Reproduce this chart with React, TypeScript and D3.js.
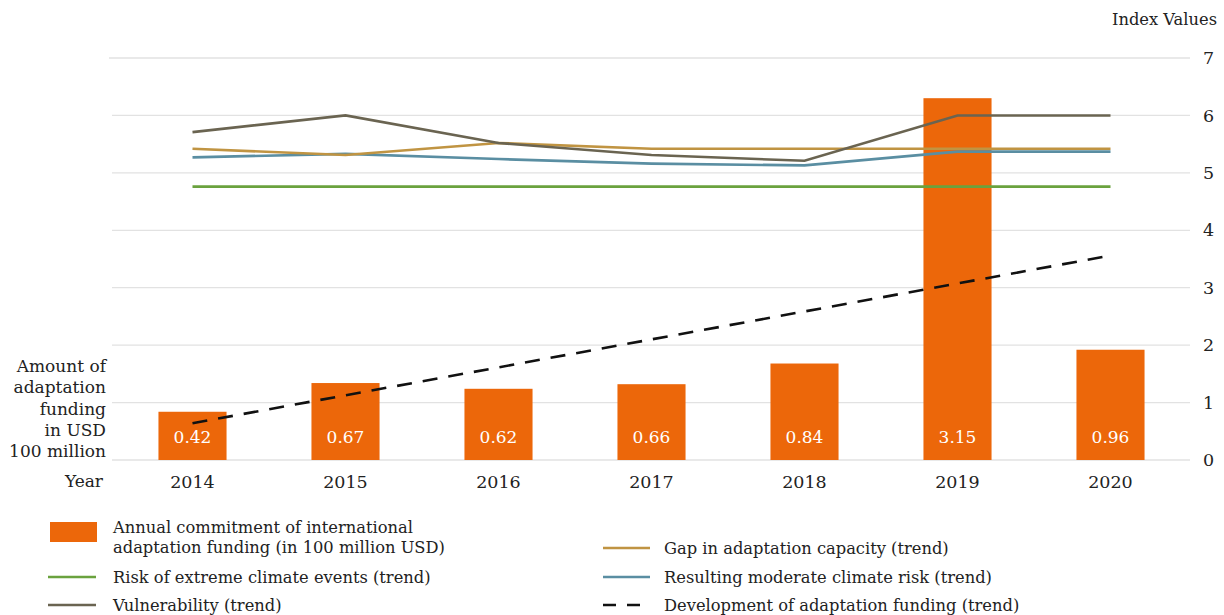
import React from "react";
import * as d3 from "d3";

const years = ["2014", "2015", "2016", "2017", "2018", "2019", "2020"];
const funding = [0.42, 0.67, 0.62, 0.66, 0.84, 3.15, 0.96];
const gapCapacity = [5.42, 5.31, 5.52, 5.42, 5.42, 5.42, 5.42];
const vulnerability = [5.71, 6.0, 5.52, 5.31, 5.21, 6.0, 6.0];
const moderateRisk = [5.27, 5.33, 5.24, 5.16, 5.13, 5.37, 5.37];
const extremeRisk = [4.76, 4.76, 4.76, 4.76, 4.76, 4.76, 4.76];
const fundingTrendEnds = [0.32, 1.78];
const indexTicks = [0, 1, 2, 3, 4, 5, 6, 7];
const leftLabel = ["Amount of", "adaptation", "funding", "in USD", "100 million"];

const FONT = "'DejaVu Serif', serif";
const C_BAR = "#EC670A";
const C_GAP = "#C09442";
const C_MOD = "#5A8EA2";
const C_EXT = "#6AA23E";
const C_VUL = "#6A6451";

export default function App() {
  const W = 1224, H = 615;
  const x = d3.scaleBand().domain(years).range([116, 1187]).paddingInner(0).paddingOuter(0);
  const yIdx = d3.scaleLinear().domain([0, 7]).range([460, 58]);
  const yFund = d3.scaleLinear().domain([0, 3.5]).range([460, 58]);
  const cx = (y: string) => (x(y) as number) + x.bandwidth() / 2;
  const barW = x.bandwidth() * 0.445;

  const line = d3.line<number>().x((_, i) => cx(years[i])).y((d) => yIdx(d));
  const series = [
    { data: extremeRisk, color: C_EXT },
    { data: moderateRisk, color: C_MOD },
    { data: gapCapacity, color: C_GAP },
    { data: vulnerability, color: C_VUL },
  ];

  const text = { fontFamily: FONT, fill: "#222" } as const;
  const LF = 16.3;

  return (
    <svg width={W} height={H} style={{ display: "block", position: "absolute", left: 0, top: 0 }}>
      {indexTicks.map((t) => (
        <g key={t}>
          <line x1={t === 7 ? 109 : 112} x2={1190} y1={yIdx(t)} y2={yIdx(t)} stroke="#e2e2e2" strokeWidth={1.3} />
          <text x={1203} y={yIdx(t)} dy="0.35em" fontSize={17.5} {...text}>{t}</text>
        </g>
      ))}
      <text x={1217} y={19} dy="0.35em" textAnchor="end" fontSize={16.3} {...text}>Index Values</text>
      {funding.map((v, i) => (
        <g key={years[i]}>
          <rect x={cx(years[i]) - barW / 2} y={yFund(v)} width={barW} height={yFund(0) - yFund(v)} fill={C_BAR} />
          <text x={cx(years[i])} y={437} dy="0.35em" textAnchor="middle" fontSize={17} fontFamily={FONT} fill="#fff">
            {v.toFixed(2)}
          </text>
        </g>
      ))}
      {series.map((s, i) => (
        <path key={i} d={line(s.data) || ""} fill="none" stroke={s.color} strokeWidth={2.6} />
      ))}
      <line
        x1={cx(years[0])} x2={cx(years[years.length - 1])}
        y1={yFund(fundingTrendEnds[0])} y2={yFund(fundingTrendEnds[1])}
        stroke="#111" strokeWidth={2.6} strokeDasharray="15 11"
      />
      {years.map((y) => (
        <text key={y} x={cx(y)} y={482} dy="0.35em" textAnchor="middle" fontSize={17.5} {...text}>{y}</text>
      ))}
      {leftLabel.map((l, i) => (
        <text key={l} x={106} y={366 + i * 21.3} dy="0.35em" textAnchor="end" fontSize={17} {...text}>{l}</text>
      ))}
      <text x={103} y={481} dy="0.35em" textAnchor="end" fontSize={17} {...text}>Year</text>

      {/* Legend */}
      <rect x={50} y={522} width={47} height={20} fill={C_BAR} />
      <text x={113} y={527} dy="0.35em" fontSize={LF} {...text}>Annual commitment of international</text>
      <text x={113} y={547} dy="0.35em" fontSize={LF} {...text}>adaptation funding (in 100 million USD)</text>
      <line x1={48} x2={96} y1={577} y2={577} stroke={C_EXT} strokeWidth={2.6} />
      <text x={113} y={577} dy="0.35em" fontSize={LF} {...text}>Risk of extreme climate events (trend)</text>
      <line x1={48} x2={96} y1={605} y2={605} stroke={C_VUL} strokeWidth={2.6} />
      <text x={113} y={605} dy="0.35em" fontSize={LF} {...text}>Vulnerability (trend)</text>

      <line x1={603} x2={650} y1={548} y2={548} stroke={C_GAP} strokeWidth={2.6} />
      <text x={664} y={548} dy="0.35em" fontSize={LF} {...text}>Gap in adaptation capacity (trend)</text>
      <line x1={603} x2={650} y1={577} y2={577} stroke={C_MOD} strokeWidth={2.6} />
      <text x={664} y={577} dy="0.35em" fontSize={LF} {...text}>Resulting moderate climate risk (trend)</text>
      <line x1={603} x2={650} y1={605} y2={605} stroke="#111" strokeWidth={2.6} strokeDasharray="13 11" />
      <text x={664} y={605} dy="0.35em" fontSize={LF} {...text}>Development of adaptation funding (trend)</text>
    </svg>
  );
}
